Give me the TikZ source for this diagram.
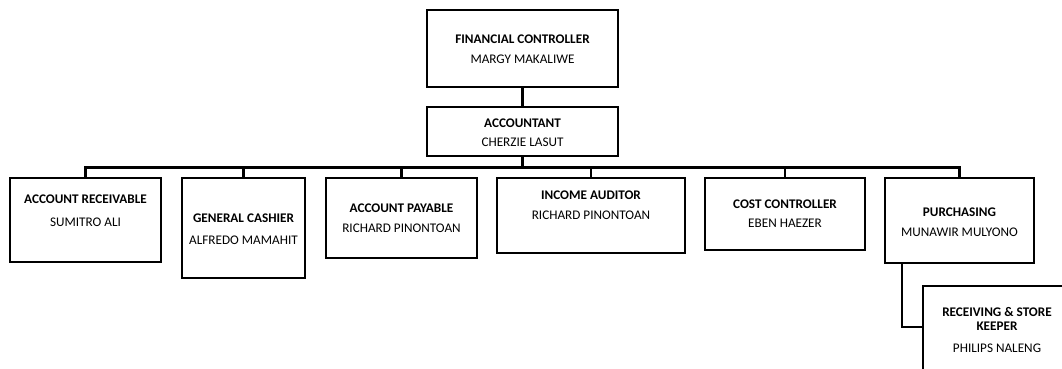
\documentclass[tikz,border=0pt]{standalone}
\usepackage{fontspec}
\setmainfont{Carlito}
\begin{document}
\begin{tikzpicture}[x=1pt,y=-1pt,
  box/.style={draw=black,line width=2.4pt,inner sep=0pt,rectangle},
  conn/.style={draw=black,line width=2.4pt},
  txt/.style={inner sep=0pt,text height=8.4pt,text depth=0pt,anchor=center,font=\fontsize{13.2}{15}\selectfont},
  ttl/.style={txt,font=\fontsize{13.2}{15}\selectfont\bfseries}]
\useasboundingbox (0,0) rectangle (1062,368);
% boxes
\node[box,minimum width=191pt,minimum height=77pt] (fc) at (522.5,48.5) {};
\node[box,minimum width=191pt,minimum height=49pt] (acc) at (522.5,131.5) {};
\node[box,minimum width=151pt,minimum height=84pt] (ar) at (85.5,220) {};
\node[box,minimum width=123pt,minimum height=100pt] (gc) at (243.5,228) {};
\node[box,minimum width=151pt,minimum height=80pt] (ap) at (401.5,218) {};
\node[box,minimum width=188pt,minimum height=75pt] (ia) at (591,215.5) {};
\node[box,minimum width=160pt,minimum height=72pt] (cc) at (785,214) {};
\node[box,minimum width=149pt,minimum height=85pt] (pu) at (959.5,220.5) {};
\node[box,minimum width=148pt,minimum height=114pt] (rs) at (997,343) {};
% texts
\node[ttl] (fct) at (522.5,39) {FINANCIAL CONTROLLER};
\node[txt] (fcn) at (522.5,59) {MARGY MAKALIWE};
\node[ttl] (acct) at (522.5,123) {ACCOUNTANT};
\node[txt] (accn) at (522.5,142) {CHERZIE LASUT};
\node[ttl] (art) at (85.5,199) {ACCOUNT RECEIVABLE};
\node[txt] (arn) at (85.5,222) {SUMITRO ALI};
\node[ttl] (gct) at (243.5,218) {GENERAL CASHIER};
\node[txt] (gcn) at (243.5,240) {ALFREDO MAMAHIT};
\node[ttl] (apt) at (401.5,208) {ACCOUNT PAYABLE};
\node[txt] (apn) at (401.5,228) {RICHARD PINONTOAN};
\node[ttl] (iat) at (591,195) {INCOME AUDITOR};
\node[txt] (ian) at (591,215) {RICHARD PINONTOAN};
\node[ttl] (cct) at (785,204) {COST CONTROLLER};
\node[txt] (ccn) at (785,223) {EBEN HAEZER};
\node[ttl] (put) at (959.5,212) {PURCHASING};
\node[txt] (pun) at (959.5,232) {MUNAWIR MULYONO};
\node[ttl] (rst1) at (997,312) {RECEIVING \& STORE};
\node[ttl] (rst2) at (997,326) {KEEPER};
\node[txt] (rsn) at (997,348) {PHILIPS NALENG};
% connectors
\coordinate (bus) at (0,167.5);
\draw[conn] (fc.south) -- (acc.north);
\draw[conn] (acc.south) -- (acc.south |- bus);
\draw[conn,line join=miter] (ar.north) -- (ar.north |- bus) -- (pu.north |- bus) -- (pu.north);
\draw[conn] (gc.north) -- (gc.north |- bus);
\draw[conn] (ap.north) -- (ap.north |- bus);
\draw[conn] (ia.north) -- (ia.north |- bus);
\draw[conn] (cc.north) -- (cc.north |- bus);
\draw[conn,line join=miter] ([xshift=-57.5pt]pu.south) |- ([yshift=16pt]rs.west);
\end{tikzpicture}
\end{document}
